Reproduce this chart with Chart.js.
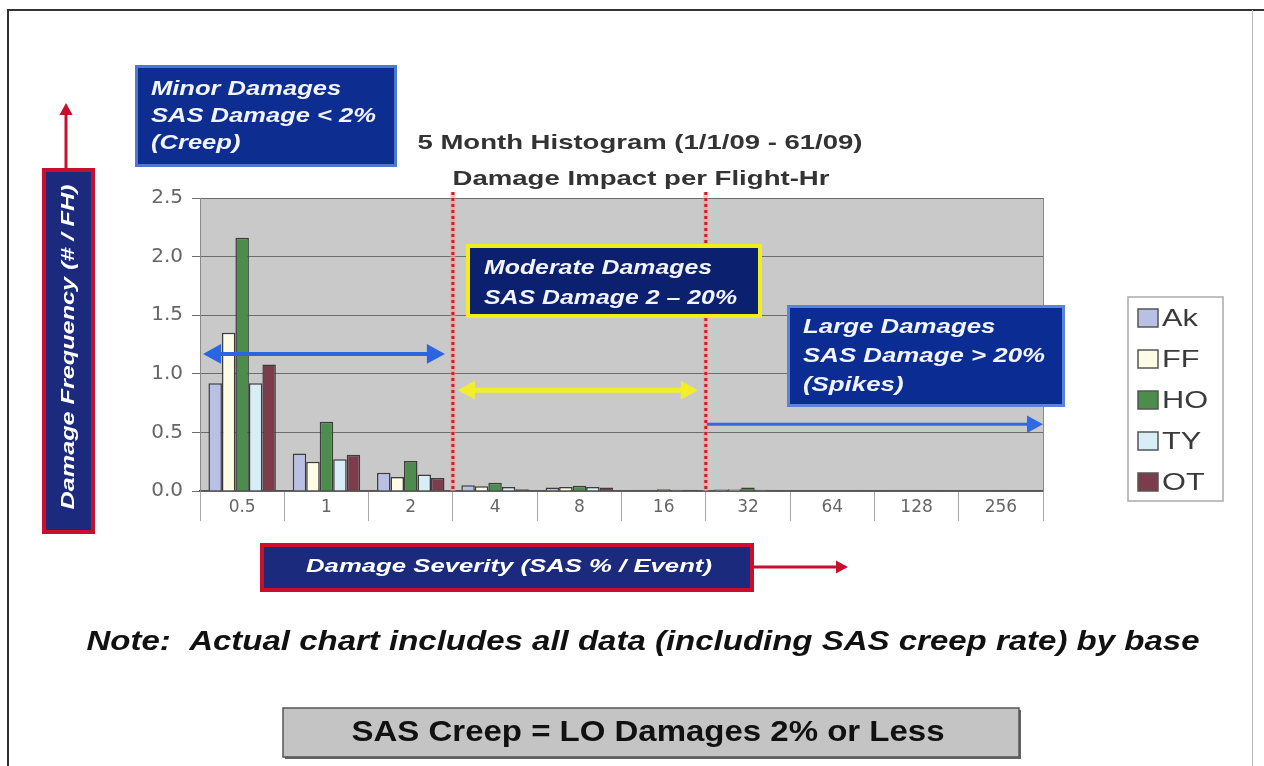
<!DOCTYPE html>
<html>
<head>
<meta charset="utf-8">
<script src="https://cdn.jsdelivr.net/npm/chart.js@4.4.0/dist/chart.umd.min.js"></script>
<style>
  html, body { margin: 0; padding: 0; background: #fff; }
  #wrap { width: 1264px; height: 766px; }
</style>
</head>
<body>
<div id="wrap"><canvas id="histChart" width="1264" height="766"></canvas></div>
<script>
// damage severity bins (SAS % / event)
const categories = ["0.5", "1", "2", "4", "8", "16", "32", "64", "128", "256"];
const seriesNames = ["Ak", "FF", "HO", "TY", "OT"];
// damage frequency (# / FH) per base
const akValues = [0.92, 0.32, 0.155, 0.05, 0.03, 0.006, 0.012, 0.004, 0.003, 0.004];
const ffValues = [1.35, 0.25, 0.12, 0.04, 0.035, 0.006, 0.015, 0.004, 0.003, 0.004];
const hoValues = [2.16, 0.59, 0.255, 0.07, 0.045, 0.015, 0.03, 0.008, 0.006, 0.006];
const tyValues = [0.92, 0.27, 0.14, 0.035, 0.035, 0.01, 0.01, 0.004, 0.003, 0.004];
const otValues = [1.08, 0.31, 0.11, 0.015, 0.03, 0.01, 0.006, 0.003, 0.002, 0.004];
const yTicks = [0, 0.5, 1.0, 1.5, 2.0, 2.5];

const seriesColors = ["#b9c0e6", "#fffbe6", "#4e8c4e", "#d7eef7", "#7b3c4c"];
const FONT = "'Liberation Sans', Arial, sans-serif";
const TICK_FONT = "'DejaVu Sans', 'Liberation Sans', sans-serif";
const SX = 1.28; // the slide text is drawn a bit wide

function drawArrow(ctx, x1, y1, x2, y2, color, width, head, both) {
  const ang = Math.atan2(y2 - y1, x2 - x1);
  ctx.save();
  ctx.strokeStyle = color;
  ctx.fillStyle = color;
  ctx.lineWidth = width;
  ctx.beginPath();
  ctx.moveTo(x1 + (both ? Math.cos(ang) * head * 0.8 : 0), y1 + (both ? Math.sin(ang) * head * 0.8 : 0));
  ctx.lineTo(x2 - Math.cos(ang) * head * 0.8, y2 - Math.sin(ang) * head * 0.8);
  ctx.stroke();
  const tip = (x, y, a) => {
    ctx.beginPath();
    ctx.moveTo(x, y);
    ctx.lineTo(x - head * Math.cos(a) + head * 0.55 * Math.sin(a), y - head * Math.sin(a) - head * 0.55 * Math.cos(a));
    ctx.lineTo(x - head * Math.cos(a) - head * 0.55 * Math.sin(a), y - head * Math.sin(a) + head * 0.55 * Math.cos(a));
    ctx.closePath();
    ctx.fill();
  };
  tip(x2, y2, ang);
  if (both) tip(x1, y1, ang + Math.PI);
  ctx.restore();
}

function drawBox(ctx, x, y, w, h, fill, border, bw) {
  ctx.save();
  ctx.fillStyle = fill;
  ctx.fillRect(x, y, w, h);
  ctx.strokeStyle = border;
  ctx.lineWidth = bw;
  ctx.strokeRect(x + bw / 2, y + bw / 2, w - bw, h - bw);
  ctx.restore();
}

// lines of text, stretched so that line `refIdx` is `refW` px wide (or by SX)
function drawLines(ctx, lines, x, y, step, font, color, align, refW, refIdx) {
  ctx.save();
  ctx.font = font;
  ctx.fillStyle = color;
  ctx.textBaseline = "middle";
  ctx.textAlign = "left";
  let sx = SX;
  if (refW) sx = refW / ctx.measureText(lines[refIdx || 0]).width;
  lines.forEach((t, i) => {
    const w = ctx.measureText(t).width * sx;
    let x0 = x;
    if (align === "center") x0 = x - w / 2;
    else if (align === "right") x0 = x - w;
    ctx.save();
    ctx.translate(x0, y + i * step);
    ctx.scale(sx, 1);
    ctx.fillText(t, 0, 0);
    ctx.restore();
  });
  ctx.restore();
}

const decorPlugin = {
  id: "decor",
  beforeDraw(chart) {
    const { ctx, chartArea: a } = chart;
    ctx.save();
    ctx.fillStyle = "#ffffff";
    ctx.fillRect(0, 0, chart.width, chart.height);
    ctx.fillStyle = "#c9c9c9";
    ctx.fillRect(a.left, a.top, a.right - a.left, a.bottom - a.top);
    ctx.restore();
  },
  afterDatasetsDraw(chart) {
    const { ctx, chartArea: a, scales } = chart;
    const xs = scales.x, ys = scales.y;
    // right edge of plot
    ctx.save();
    ctx.strokeStyle = "#8a8a8a";
    ctx.lineWidth = 1;
    ctx.beginPath();
    ctx.moveTo(a.right + 0.5, a.top);
    ctx.lineTo(a.right + 0.5, a.bottom);
    ctx.stroke();
    ctx.restore();

    // red dotted separators between severity classes
    const b1 = (xs.getPixelForValue(2) + xs.getPixelForValue(3)) / 2;
    const b2 = (xs.getPixelForValue(5) + xs.getPixelForValue(6)) / 2;
    [b1, b2].forEach(bx => {
      ctx.save();
      ctx.strokeStyle = "rgba(255,150,150,0.6)";
      ctx.lineWidth = 5;
      ctx.beginPath();
      ctx.moveTo(bx, a.top - 6);
      ctx.lineTo(bx, a.bottom);
      ctx.stroke();
      ctx.strokeStyle = "#c8202a";
      ctx.lineWidth = 3;
      ctx.setLineDash([3, 3]);
      ctx.beginPath();
      ctx.moveTo(bx, a.top - 6);
      ctx.lineTo(bx, a.bottom);
      ctx.stroke();
      ctx.restore();
    });

    // range arrows
    drawArrow(ctx, a.left + 3, ys.getPixelForValue(1.17), b1 - 8, ys.getPixelForValue(1.17), "#2a66e0", 4, 18, true);
    drawArrow(ctx, b1 + 5, ys.getPixelForValue(0.86), b2 - 8, ys.getPixelForValue(0.86), "#f2ef2a", 5, 17, true);
    drawArrow(ctx, b2 + 1, ys.getPixelForValue(0.57), a.right, ys.getPixelForValue(0.57), "#2f6ae4", 3, 16, false);
  },
  afterDraw(chart) {
    const { ctx } = chart;
    // outer frame
    ctx.save();
    ctx.strokeStyle = "#333";
    ctx.lineWidth = 2;
    ctx.beginPath();
    ctx.moveTo(8, 766);
    ctx.lineTo(8, 10);
    ctx.lineTo(1264, 10);
    ctx.stroke();
    ctx.strokeStyle = "#bbb";
    ctx.lineWidth = 1;
    ctx.beginPath();
    ctx.moveTo(1252.5, 10);
    ctx.lineTo(1252.5, 766);
    ctx.stroke();
    ctx.restore();

    // titles
    drawLines(ctx, ["5 Month Histogram (1/1/09 - 61/09)"], 640, 143, 0, "bold 21px " + FONT, "#333", "center", 445);
    drawLines(ctx, ["Damage Impact per Flight-Hr"], 641, 179, 0, "bold 21px " + FONT, "#333", "center", 377);

    // class annotation boxes
    const boxFont = "italic bold 20px " + FONT;
    drawBox(ctx, 135, 65, 262, 102, "#0d2d90", "#4d78d0", 3);
    drawLines(ctx, ["Minor Damages", "SAS Damage < 2%", "(Creep)"], 151, 89, 27, boxFont, "#f2f4ff", "left", 225, 1);
    drawBox(ctx, 466, 244, 296, 74, "#0b216f", "#f2ee1e", 4);
    drawLines(ctx, ["Moderate Damages", "SAS Damage 2 \u2013 20%"], 484, 268, 30, boxFont, "#f2f4ff", "left", 253, 1);
    drawBox(ctx, 787, 305, 278, 102, "#0b2c92", "#5a84dc", 3);
    drawLines(ctx, ["Large Damages", "SAS Damage > 20%", "(Spikes)"], 803, 327, 29, boxFont, "#f2f4ff", "left", 242, 1);

    // y axis title box
    drawArrow(ctx, 66, 168, 66, 103, "#c8102e", 3, 12, false);
    drawBox(ctx, 42, 168, 53, 366, "#1b2a7c", "#c8102e", 4);
    ctx.save();
    ctx.translate(69, 347);
    ctx.rotate(-Math.PI / 2);
    drawLines(ctx, ["Damage Frequency (# / FH)"], 0, 0, 0, "italic bold 19px " + FONT, "#ffffff", "center", 325);
    ctx.restore();

    // x axis title box
    drawBox(ctx, 260, 543, 494, 49, "#1b2a7c", "#c8102e", 4);
    drawLines(ctx, ["Damage Severity (SAS % / Event)"], 509, 567, 0, "italic bold 19px " + FONT, "#ffffff", "center", 406);
    drawArrow(ctx, 754, 567, 848, 567, "#c8102e", 3, 12, false);

    // legend
    ctx.save();
    ctx.fillStyle = "#fff";
    ctx.fillRect(1128, 297, 95, 204);
    ctx.strokeStyle = "#aaa";
    ctx.lineWidth = 1.5;
    ctx.strokeRect(1128, 297, 95, 204);
    chart.data.datasets.forEach((ds, i) => {
      const cy = 318 + i * 41;
      ctx.fillStyle = ds.backgroundColor;
      ctx.fillRect(1138, cy - 9, 20, 18);
      ctx.strokeStyle = "#555";
      ctx.lineWidth = 1.5;
      ctx.strokeRect(1138, cy - 9, 20, 18);
      drawLines(ctx, [ds.label], 1162, cy + 1, 0, "24px " + FONT, "#3a3a3a", "left");
    });
    ctx.restore();

    // note and footer
    drawLines(ctx, ["Note:  Actual chart includes all data (including SAS creep rate) by base"], 643, 642, 0, "italic bold 28px " + FONT, "#111", "center", 1113);
    ctx.save();
    ctx.fillStyle = "#666";
    ctx.fillRect(285, 710, 736, 49);
    ctx.fillStyle = "#c4c4c4";
    ctx.fillRect(283, 708, 736, 49);
    ctx.strokeStyle = "#555";
    ctx.lineWidth = 1.5;
    ctx.strokeRect(283, 708, 736, 49);
    ctx.restore();
    drawLines(ctx, ["SAS Creep = LO Damages 2% or Less"], 648, 733, 0, "bold 30px " + FONT, "#111", "center", 593);
  }
};

const valueSets = [akValues, ffValues, hoValues, tyValues, otValues];
const datasets = seriesNames.map((name, i) => ({
  label: name,
  data: valueSets[i],
  backgroundColor: seriesColors[i],
  borderColor: "#3c3c3c",
  borderWidth: 1.5,
  barPercentage: 1.0,
  categoryPercentage: 0.8
}));

new Chart(document.getElementById("histChart"), {
  type: "bar",
  data: { labels: categories, datasets: datasets },
  plugins: [decorPlugin],
  options: {
    responsive: false,
    animation: false,
    devicePixelRatio: 1,
    layout: { padding: { left: 140, right: 221, top: 198, bottom: 245 } },
    plugins: {
      legend: { display: false },
      title: { display: false },
      tooltip: { enabled: false }
    },
    scales: {
      x: {
        offset: true,
        afterFit: s => { s.height = 30; },
        grid: { offset: true, drawOnChartArea: false, drawTicks: true, tickLength: 30, color: "#a8a8a8" },
        border: { color: "#555", width: 1.5 },
        ticks: { color: "#666", padding: -24, font: { size: 17, family: TICK_FONT } }
      },
      y: {
        min: 0,
        max: 2.5,
        afterFit: s => { s.width = 60; },
        afterBuildTicks: s => { s.ticks = yTicks.map(v => ({ value: v })); },
        grid: { color: "#6c6c6c", lineWidth: 1, tickLength: 8 },
        border: { color: "#8a8a8a" },
        ticks: { color: "#666", padding: 9, font: { size: 20, family: TICK_FONT }, callback: v => v.toFixed(1) }
      }
    }
  }
});
</script>
</body>
</html>
